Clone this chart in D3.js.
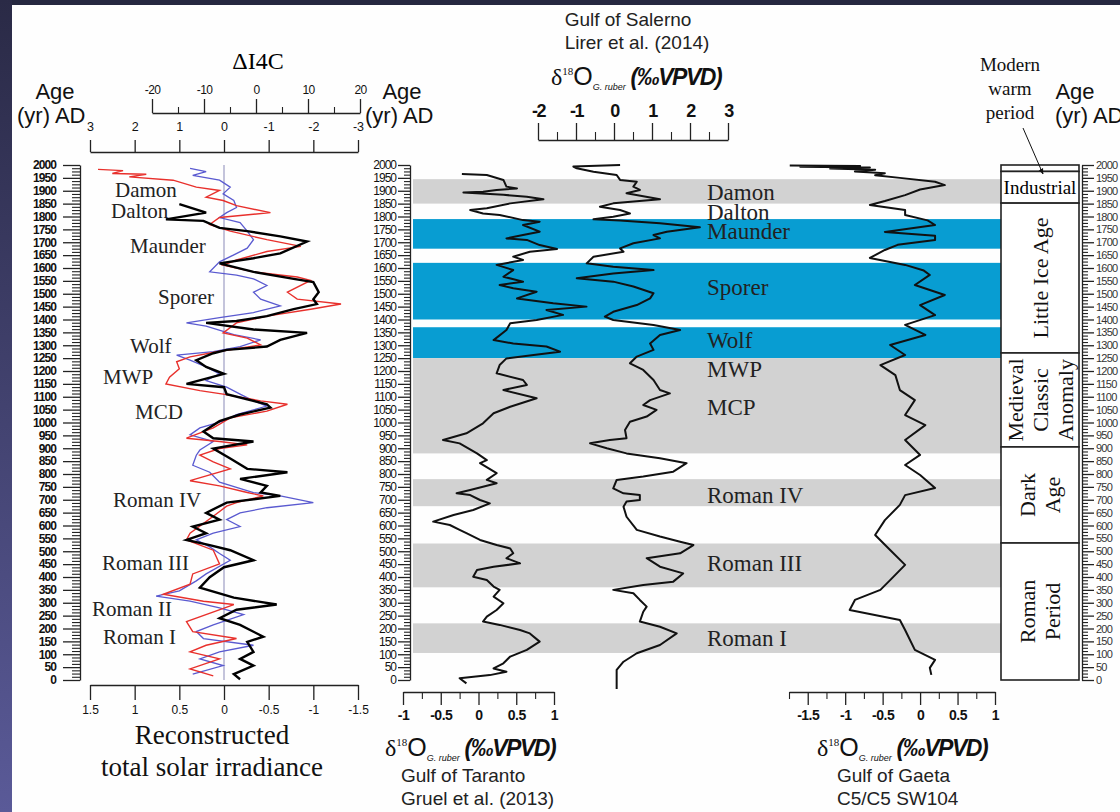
<!DOCTYPE html>
<html>
<head>
<meta charset="utf-8">
<script src="https://cdn.jsdelivr.net/npm/d3@7"></script>
<style>
  body { margin: 0; background: #fff; }
  svg { display: block; }
</style>
</head>
<body>
<div id="chart"></div>
<script>
// ---- data (years AD, values in axis units) ----
const ageMajor = d3.range(0, 2001, 50);
const ageMinor = d3.range(0, 2001, 12.5).filter(d => d % 50 !== 0);

const tsiTicks = [1.5, 1, 0.5, 0, -0.5, -1, -1.5];
const tsiTopTicks = [3, 2, 1, 0, -1, -2, -3];
const c14Ticks = [-20, -10, 0, 10, 20];
const c14Minor = [-15, -5, 5, 15];
const salernoTicks = [-2, -1, 0, 1, 2, 3];
const salernoMinor = [-1.5, -0.5, 0.5, 1.5, 2.5];
const tarantoTicks = [-1, -0.5, 0, 0.5, 1];
const tarantoMinor = [-0.75, -0.25, 0.25, 0.75];
const gaetaTicks = [-1.5, -1, -0.5, 0, 0.5, 1];
const gaetaMinor = [-1.75, -1.25, -0.75, -0.25, 0.25, 0.75];

// reconstructed TSI, black curve
const tsiBlack = [[1848,0.50],[1815,0.20],[1789,0.65],[1783,0.23],[1756,0.05],[1743,-0.26],[1723,-0.63],[1703,-0.93],
  [1657,-0.63],[1638,-0.33],[1618,0.05],[1585,-0.33],[1558,-0.78],[1545,-1.0],[1506,-1.06],[1479,-1.0],[1460,-1.04],
  [1440,-0.78],[1413,-0.48],[1394,-0.14],[1387,0.20],[1361,-0.33],[1348,-0.93],[1321,-0.63],[1295,-0.48],[1282,-0.03],
  [1269,0.12],[1242,0.31],[1216,0.20],[1189,0.0],[1150,0.42],[1137,0.0],[1110,-0.03],[1071,-0.48],[1058,-0.52],
  [1031,-0.18],[1005,0.05],[965,0.23],[939,0.12],[926,-0.33],[899,0.12],[860,-0.07],[820,-0.26],[807,-0.71],[781,-0.18],
  [754,-0.48],[728,-0.41],[715,-0.63],[689,-0.03],[649,0.20],[623,0.05],[596,0.35],[570,0.20],[544,0.42],[524,0.16],
  [504,-0.07],[465,-0.33],[438,0.0],[399,0.16],[359,0.27],[320,-0.11],[293,-0.59],[273,-0.14],[240,0.05],[214,-0.18],
  [168,-0.44],[148,-0.26],[109,-0.33],[82,-0.18],[56,-0.33],[23,-0.11],[3,-0.18]];

// red curve
const tsiRed = [[1983,1.41],[1978,1.13],[1967,1.25],[1964,0.87],[1954,1.06],[1941,0.57],[1914,0.31],[1901,0.05],
  [1875,0.20],[1862,0.01],[1842,-0.14],[1815,-0.52],[1796,0.05],[1769,0.16],[1743,-0.07],[1710,-0.48],[1684,-0.86],
  [1664,-0.48],[1631,-0.14],[1611,0.01],[1585,-0.33],[1565,-0.82],[1552,-0.97],[1506,-0.71],[1479,-0.82],[1460,-1.31],
  [1440,-0.97],[1413,-0.48],[1387,-0.14],[1348,0.01],[1328,-0.26],[1301,-0.41],[1275,0.08],[1255,0.38],[1236,0.53],
  [1209,0.50],[1176,0.61],[1150,0.65],[1124,0.27],[1110,0.01],[1084,-0.41],[1071,-0.71],[1044,-0.48],[1018,-0.07],
  [979,0.12],[939,0.42],[926,0.05],[913,-0.26],[899,0.05],[873,0.27],[847,0.12],[820,-0.07],[774,0.38],[754,0.05],
  [728,-0.26],[715,-0.44],[689,-0.14],[675,-0.03],[636,0.12],[570,0.38],[544,0.42],[504,0.12],[451,0.05],[412,0.35],
  [372,0.38],[333,0.68],[306,0.23],[293,-0.11],[227,0.42],[188,0.35],[161,-0.14],[135,0.20],[109,0.38],[82,0.05],
  [43,0.38],[16,0.12]];

// blue curve
const tsiBlue = [[1987,0.38],[1974,0.20],[1960,0.35],[1941,0.05],[1914,-0.07],[1888,0.01],[1862,-0.11],[1835,-0.14],
  [1815,-0.03],[1796,0.05],[1776,-0.18],[1743,-0.26],[1710,-0.33],[1677,-0.26],[1651,-0.11],[1624,0.05],[1585,0.16],
  [1572,-0.14],[1558,-0.33],[1532,-0.48],[1506,-0.33],[1479,-0.41],[1453,-0.63],[1427,-0.33],[1407,0.05],[1387,0.42],
  [1374,0.20],[1341,-0.11],[1321,-0.41],[1295,-0.18],[1275,0.12],[1262,0.53],[1242,0.38],[1216,0.20],[1189,0.05],
  [1163,0.20],[1137,-0.03],[1110,-0.18],[1084,-0.33],[1064,-0.48],[1031,-0.14],[1005,0.01],[979,0.27],[952,0.38],
  [926,0.12],[893,0.27],[873,0.31],[834,0.35],[807,0.16],[768,0.05],[728,-0.33],[715,-0.63],[689,-1.0],[669,-0.48],
  [649,-0.18],[623,-0.03],[596,-0.18],[570,0.12],[544,0.31],[517,0.16],[491,0.05],[465,-0.07],[412,0.20],[385,0.31],
  [346,0.50],[326,0.76],[306,0.38],[280,0.05],[254,-0.22],[214,0.12],[188,0.31],[161,0.23],[135,-0.33],[109,0.05],
  [82,0.27],[56,0.01],[23,0.35]];

// d18O G. ruber, Gulf of Taranto
const taranto = [[1965,-0.22],[1961,0.11],[1942,0.33],[1916,0.37],[1909,0.51],[1903,0.24],[1896,0.06],[1893,-0.20],
  [1884,0.33],[1877,0.64],[1867,0.86],[1851,0.42],[1832,0.11],[1825,-0.11],[1812,0.06],[1806,0.28],[1786,0.59],
  [1780,0.81],[1767,0.59],[1741,0.81],[1728,0.59],[1715,0.37],[1709,0.64],[1689,0.81],[1674,1.04],[1663,0.68],
  [1644,0.46],[1631,0.59],[1612,0.24],[1592,0.46],[1566,0.33],[1547,0.59],[1534,0.28],[1521,0.46],[1508,0.77],
  [1482,0.51],[1463,0.99],[1450,1.43],[1437,0.90],[1418,1.12],[1398,0.77],[1385,0.42],[1359,0.37],[1320,0.20],
  [1307,0.46],[1295,0.90],[1275,1.08],[1262,0.73],[1249,0.37],[1223,0.28],[1191,0.24],[1165,0.59],[1146,0.64],
  [1126,0.33],[1094,0.77],[1061,0.42],[1036,0.20],[997,0.06],[958,-0.16],[932,-0.47],[919,-0.25],[880,-0.02],
  [854,0.11],[842,0.02],[803,0.24],[777,0.11],[764,0.24],[738,-0.11],[725,-0.29],[718,-0.11],[699,0.02],[686,0.15],
  [660,-0.07],[641,-0.33],[615,-0.60],[602,-0.38],[583,-0.25],[570,-0.16],[544,0.02],[524,0.24],[511,0.42],
  [492,0.46],[473,0.37],[453,0.55],[440,0.20],[427,-0.02],[401,-0.07],[388,0.11],[363,0.20],[350,0.28],[324,0.20],
  [298,0.33],[272,0.24],[246,0.11],[227,0.06],[214,0.28],[194,0.55],[181,0.68],[149,0.81],[117,0.64],[91,0.42],
  [65,0.33],[45,0.20],[32,0.37],[19,0.15],[7,-0.25],[-13,-0.16]];

// d18O G. ruber, Gulf of Salerno
const salerno = [[2000,0.16],[1994,-1.07],[1987,-0.98],[1974,-0.54],[1961,0.07],[1942,0.16],[1935,0.60],[1916,0.51],
  [1903,0.68],[1890,0.33],[1867,1.21],[1851,-0.02],[1838,-0.37],[1825,0.16],[1812,0.42],[1799,-0.02],[1789,-0.54],
  [1784,0.16],[1774,1.21],[1758,2.26],[1741,1.39],[1728,1.04],[1715,1.21],[1696,0.51],[1676,0.16],[1663,0.25],
  [1644,-0.54],[1618,-0.72],[1605,-0.02],[1592,1.04],[1579,-0.02],[1560,-0.98],[1547,-0.02],[1528,0.51],[1502,1.04],
  [1482,0.95],[1456,0.60],[1430,-0.02],[1411,-0.24],[1398,-0.02],[1379,1.04],[1359,1.74],[1340,1.21],[1307,0.95],
  [1282,1.04],[1256,0.60],[1230,0.42],[1204,0.77],[1165,1.04],[1126,1.21],[1113,1.47],[1087,0.95],[1068,0.77],
  [1049,1.12],[1023,0.86],[1003,0.42],[971,0.29],[939,0.33],[932,-0.11],[919,-0.63],[900,-0.19],[880,0.33],
  [861,1.21],[842,1.91],[809,1.56],[790,0.77],[777,0.07],[744,-0.02],[725,0.25],[718,0.68],[699,0.68],[693,0.33],
  [673,0.25],[634,0.33],[583,0.60],[557,1.21],[537,1.74],[524,2.09],[492,1.74],[473,0.86],[440,1.21],[414,1.82],
  [382,1.56],[369,0.77],[350,-0.02],[337,0.51],[311,0.68],[285,0.86],[265,0.77],[227,0.68],[207,1.21],[181,1.65],
  [136,1.21],[104,0.60],[71,0.25],[39,0.07],[-35,0.07]];

// d18O G. ruber, Gulf of Gaeta
const gaeta = [[1998,-1.74],[1996,-0.80],[1993,-1.60],[1990,-0.67],[1986,-1.20],[1982,-0.60],[1975,-0.87],
  [1968,-0.47],[1960,-0.60],[1950,-0.27],[1935,0.20],[1922,0.33],[1905,0.0],[1883,-0.20],[1860,-0.47],[1845,-0.67],
  [1825,-0.20],[1806,-0.20],[1785,0.10],[1767,0.20],[1740,-0.47],[1725,0.20],[1709,0.20],[1690,-0.30],[1670,-0.47],
  [1639,-0.67],[1612,-0.20],[1590,0.05],[1573,0.13],[1534,-0.07],[1495,0.33],[1456,0.0],[1417,0.20],[1379,-0.20],
  [1340,0.07],[1301,-0.40],[1262,-0.20],[1223,-0.53],[1184,-0.33],[1126,-0.27],[1087,-0.07],[1029,-0.20],[990,0.07],
  [932,-0.20],[874,0.0],[835,-0.20],[796,0.0],[746,0.20],[718,-0.20],[680,-0.27],[621,-0.47],[563,-0.60],[505,-0.40],
  [447,-0.20],[388,-0.40],[350,-0.53],[311,-0.87],[272,-0.94],[233,-0.27],[194,-0.20],[117,-0.07],[78,0.20],
  [47,0.13],[20,0.15]];

// climate episodes shaded in the middle panel
const bands = [
  {from: 1850, to: 1945, kind: "warm"},
  {from: 1675, to: 1790, kind: "minimum"},
  {from: 1400, to: 1620, kind: "minimum"},
  {from: 1250, to: 1370, kind: "minimum"},
  {from: 880, to: 1250, kind: "warm"},
  {from: 675, to: 780, kind: "warm"},
  {from: 360, to: 530, kind: "warm"},
  {from: 105, to: 220, kind: "warm"}];

const leftEvents = ["Damon","Dalton","Maunder","Sporer","Wolf","MWP","MCD","Roman IV","Roman III","Roman II","Roman I"];
const leftEventYears = [1903,1821,1685,1487,1297,1177,1041,699,454,276,167];
const midEvents = ["Damon","Dalton","Maunder","Sporer","Wolf","MWP","MCP","Roman IV","Roman III","Roman I"];
const midEventYears = [1895,1817,1740,1526,1320,1204,1060,718,454,163];

const periods = [
  {label: [], from: 1975, to: 2000},
  {label: ["Industrial"], from: 1852, to: 1975},
  {label: ["Little Ice Age"], from: 1270, to: 1852},
  {label: ["Medieval","Classic","Anomaly"], from: 905, to: 1270},
  {label: ["Dark","Age"], from: 532, to: 905},
  {label: ["Roman","Period"], from: 0, to: 532}];

// ---- layout ----
const W = 1120, H = 812;
const SANS = "'Liberation Sans', Arial, sans-serif";
const SERIF = "'Liberation Serif', 'Times New Roman', serif";
const leftLabelX = [115,111,130,158,130,103,135,113,102,92,103];

const svg = d3.select("#chart").append("svg").attr("width", W).attr("height", H);

// slide frame
const grad = svg.append("defs").append("linearGradient").attr("id", "frame")
  .attr("x1", 0).attr("y1", 0).attr("x2", 0).attr("y2", 1);
grad.append("stop").attr("offset", "0%").attr("stop-color", "#2a2a46");
grad.append("stop").attr("offset", "100%").attr("stop-color", "#5a5a98");
svg.append("rect").attr("width", W).attr("height", H).attr("fill", "#fefefe");
svg.append("rect").attr("width", W).attr("height", 5).attr("fill", "#262840");
svg.append("rect").attr("width", 12).attr("height", H).attr("fill", "url(#frame)");

const y = d3.scaleLinear().domain([0, 2000]).range([680, 165]);

function styleAxis(g, size, weight, spacing, color) {
  g.select(".domain").attr("stroke", "#222").attr("stroke-width", 1.3);
  g.selectAll(".tick line").attr("stroke", "#222").attr("stroke-width", 1.3);
  g.selectAll("text").attr("font-family", SANS).attr("font-size", size)
    .attr("font-weight", weight).attr("letter-spacing", spacing).attr("fill", color || "#111");
}
function minorAxis(axisFn, scale, values, size, tx, ty) {
  svg.append("g").attr("transform", `translate(${tx},${ty})`)
    .call(axisFn(scale).tickValues(values).tickSize(size).tickFormat("").tickSizeOuter(0))
    .call(g => { g.select(".domain").remove(); g.selectAll("line").attr("stroke", "#222").attr("stroke-width", 1.1); });
}
const fmt = d => String(d);

// ================= left panel: solar =================
const xTsi = d3.scaleLinear().domain([1.5, -1.5]).range([90, 358]);
const xTsiTop = d3.scaleLinear().domain([3, -3]).range([90, 358]);
const xC14 = d3.scaleLinear().domain([-20, 20]).range([152, 360]);

// age axis
svg.append("g").attr("transform", "translate(80,0)")
  .call(d3.axisLeft(y).tickValues(ageMajor).tickFormat(fmt).tickSize(17).tickPadding(7).tickSizeOuter(0))
  .call(g => styleAxis(g, 12, "bold", -0.9));
minorAxis(d3.axisLeft, y, ageMinor, 8, 80, 0);

// top axes
svg.append("g").attr("transform", "translate(0,152)")
  .call(d3.axisTop(xTsiTop).tickValues(tsiTopTicks).tickFormat(fmt).tickSize(12).tickPadding(9).tickSizeOuter(0))
  .call(g => styleAxis(g, 12.5, "normal", 0));
svg.append("g").attr("transform", "translate(0,113)")
  .call(d3.axisTop(xC14).tickValues(c14Ticks).tickFormat(fmt).tickSize(14).tickPadding(5).tickSizeOuter(0))
  .call(g => styleAxis(g, 12, "normal", -0.6));
minorAxis(d3.axisTop, xC14, c14Minor, 6, 0, 113);
svg.append("text").attr("x", 258).attr("y", 69).attr("text-anchor", "middle")
  .attr("font-family", SERIF).attr("font-size", 24).text("\u0394I4C");

// bottom axis
svg.append("g").attr("transform", "translate(0,685)")
  .call(d3.axisBottom(xTsi).tickValues(tsiTicks).tickFormat(fmt).tickSize(15).tickPadding(5).tickSizeOuter(0))
  .call(g => styleAxis(g, 12, "normal", 0));
svg.append("text").attr("x", 212).attr("y", 744).attr("text-anchor", "middle")
  .attr("font-family", SERIF).attr("font-size", 27).attr("fill", "#111").text("Reconstructed");
svg.append("text").attr("x", 212).attr("y", 776).attr("text-anchor", "middle")
  .attr("font-family", SERIF).attr("font-size", 27).attr("fill", "#111").text("total solar irradiance");

// zero line
svg.append("line").attr("x1", xTsi(0)).attr("x2", xTsi(0)).attr("y1", y(2000)).attr("y2", y(0))
  .attr("stroke", "#8a8ab8").attr("stroke-width", 1);

const lineTsi = d3.line().x(d => xTsi(d[1])).y(d => y(d[0]));
svg.append("path").datum(tsiBlue).attr("d", lineTsi).attr("fill", "none").attr("stroke", "#5a5ad0").attr("stroke-width", 1.3);
svg.append("path").datum(tsiRed).attr("d", lineTsi).attr("fill", "none").attr("stroke", "#e8302c").attr("stroke-width", 1.4);
svg.append("path").datum(tsiBlack).attr("d", lineTsi).attr("fill", "none").attr("stroke", "#000").attr("stroke-width", 2.4);

svg.append("g").selectAll("text").data(leftEvents).join("text")
  .attr("x", (d, i) => leftLabelX[i]).attr("y", (d, i) => y(leftEventYears[i]))
  .attr("dominant-baseline", "central").attr("font-family", SERIF).attr("font-size", 21).attr("fill", "#222")
  .text(d => d);

// "Age (yr) AD" headers
function ageHeader(cx, x2) {
  svg.append("text").attr("x", cx).attr("y", 99).attr("text-anchor", "middle")
    .attr("font-family", SANS).attr("font-size", 22).attr("fill", "#111").text("Age");
  svg.append("text").attr("x", x2).attr("y", 123)
    .attr("font-family", SANS).attr("font-size", 22).attr("fill", "#111").text("(yr) AD");
}
ageHeader(55, 17);
ageHeader(402, 365);
ageHeader(1075, 1055);

// ================= middle panel =================
const xTar = d3.scaleLinear().domain([-1, 1]).range([403, 554]);
const xSal = d3.scaleLinear().domain([-2, 3]).range([538, 728]);
const xGae = d3.scaleLinear().domain([-1.75, 1]).range([789, 995]);
const bandColor = {warm: "#d2d2d2", minimum: "#089dd2"};

svg.append("g").selectAll("rect").data(bands).join("rect")
  .attr("x", 413).attr("width", 1001 - 413)
  .attr("y", d => y(d.to)).attr("height", d => y(d.from) - y(d.to))
  .attr("fill", d => bandColor[d.kind]);

svg.append("g").attr("transform", "translate(410,0)")
  .call(d3.axisLeft(y).tickValues(ageMajor).tickFormat(fmt).tickSize(12).tickPadding(2).tickSizeOuter(0))
  .call(g => styleAxis(g, 12, "normal", -1));
minorAxis(d3.axisLeft, y, ageMinor, 6, 410, 0);

const lineOf = xs => d3.line().x(d => xs(d[1])).y(d => y(d[0]));
[[taranto, xTar], [salerno, xSal], [gaeta, xGae]].forEach(([data, xs]) => {
  svg.append("path").datum(data).attr("d", lineOf(xs)).attr("fill", "none")
    .attr("stroke", "#111").attr("stroke-width", 2).attr("stroke-linejoin", "round");
});

svg.append("g").selectAll("text").data(midEvents).join("text")
  .attr("x", 707).attr("y", (d, i) => y(midEventYears[i]))
  .attr("dominant-baseline", "central").attr("font-family", SERIF).attr("font-size", 23).attr("fill", "#222")
  .text(d => d);

// Salerno top axis
svg.append("g").attr("transform", "translate(0,140)")
  .call(d3.axisTop(xSal).tickValues(salernoTicks).tickFormat(fmt).tickSize(17).tickPadding(6).tickSizeOuter(0))
  .call(g => styleAxis(g, 18, "bold", -1.5));
minorAxis(d3.axisTop, xSal, salernoMinor, 8, 0, 140);

// Taranto & Gaeta bottom axes
[[xTar, tarantoTicks, tarantoMinor], [xGae, gaetaTicks, gaetaMinor]].forEach(([xs, maj, mn]) => {
  svg.append("g").attr("transform", "translate(0,692)")
    .call(d3.axisBottom(xs).tickValues(maj).tickFormat(fmt).tickSize(13).tickPadding(5).tickSizeOuter(0))
    .call(g => styleAxis(g, 14, "bold", -0.5));
  minorAxis(d3.axisBottom, xs, mn, 7, 0, 692);
});

function deltaTitle(cx, cy) {
  const t = svg.append("text").attr("x", cx).attr("y", cy).attr("text-anchor", "middle").attr("fill", "#111");
  t.append("tspan").attr("font-family", SERIF).attr("font-size", 24).text("\u03b4");
  t.append("tspan").attr("font-family", SERIF).attr("font-size", 11).attr("dy", -10).text("18");
  t.append("tspan").attr("font-family", SANS).attr("font-size", 25).attr("dy", 10).text("O");
  t.append("tspan").attr("font-family", SANS).attr("font-size", 9).attr("font-style", "italic").attr("dy", 5).text("G. ruber");
  t.append("tspan").attr("font-family", SANS).attr("font-size", 23).attr("font-style", "italic")
    .attr("font-weight", "bold").attr("letter-spacing", -1.5).attr("dy", -5).text(" (\u2030VPVD)");
}
function siteText(x, yy, txt, anchor) {
  svg.append("text").attr("x", x).attr("y", yy).attr("text-anchor", anchor || "start")
    .attr("font-family", SANS).attr("font-size", 19).attr("fill", "#222").text(txt);
}
deltaTitle(636, 85);
siteText(628, 26, "Gulf of Salerno", "middle");
siteText(637, 49, "Lirer et al. (2014)", "middle");

deltaTitle(470, 756);
siteText(401, 782, "Gulf of Taranto");
siteText(401, 805, "Gruel et al. (2013)");

deltaTitle(902, 756);
siteText(837, 782, "Gulf of Gaeta");
siteText(837, 805, "C5/C5  SW104");

// ================= right panel: periods =================
const boxL = 1001, boxR = 1079;
svg.append("g").selectAll("rect").data(periods).join("rect")
  .attr("x", boxL).attr("width", boxR - boxL)
  .attr("y", d => y(d.to)).attr("height", d => y(d.from) - y(d.to))
  .attr("fill", "#fff").attr("stroke", "#222").attr("stroke-width", 1.6);

periods.forEach(p => {
  const cx = (boxL + boxR) / 2, cy = (y(p.from) + y(p.to)) / 2;
  if (p.label.length === 1 && p.label[0] === "Industrial") {
    svg.append("text").attr("x", cx).attr("y", cy).attr("text-anchor", "middle")
      .attr("dominant-baseline", "central").attr("font-family", SERIF).attr("font-size", 19).text(p.label[0]);
    return;
  }
  p.label.forEach((l, i) => {
    const dx = (i - (p.label.length - 1) / 2) * 25;
    svg.append("text").attr("transform", `translate(${cx + dx},${cy}) rotate(-90)`)
      .attr("text-anchor", "middle").attr("dominant-baseline", "central")
      .attr("font-family", SERIF).attr("font-size", 22).attr("fill", "#111").text(l);
  });
});

svg.append("g").attr("transform", "translate(1082,0)")
  .call(d3.axisRight(y).tickValues(ageMajor).tickFormat(fmt).tickSize(12).tickPadding(2).tickSizeOuter(0))
  .call(g => styleAxis(g, 11, "normal", -0.8, "#333"));
minorAxis(d3.axisRight, y, ageMinor, 6, 1082, 0);

["Modern", "warm", "period"].forEach((t, i) => {
  svg.append("text").attr("x", 1010).attr("y", 71 + i * 24).attr("text-anchor", "middle")
    .attr("font-family", SERIF).attr("font-size", 19).attr("fill", "#111").text(t);
});
svg.append("defs").append("marker").attr("id", "arrow").attr("viewBox", "0 0 10 10")
  .attr("refX", 9).attr("refY", 5).attr("markerWidth", 6).attr("markerHeight", 6).attr("orient", "auto")
  .append("path").attr("d", "M0,1L10,5L0,9z").attr("fill", "#111");
svg.append("line").attr("x1", 1023).attr("y1", 128).attr("x2", 1043).attr("y2", 174)
  .attr("stroke", "#111").attr("stroke-width", 1).attr("marker-end", "url(#arrow)");
</script>
</body>
</html>
